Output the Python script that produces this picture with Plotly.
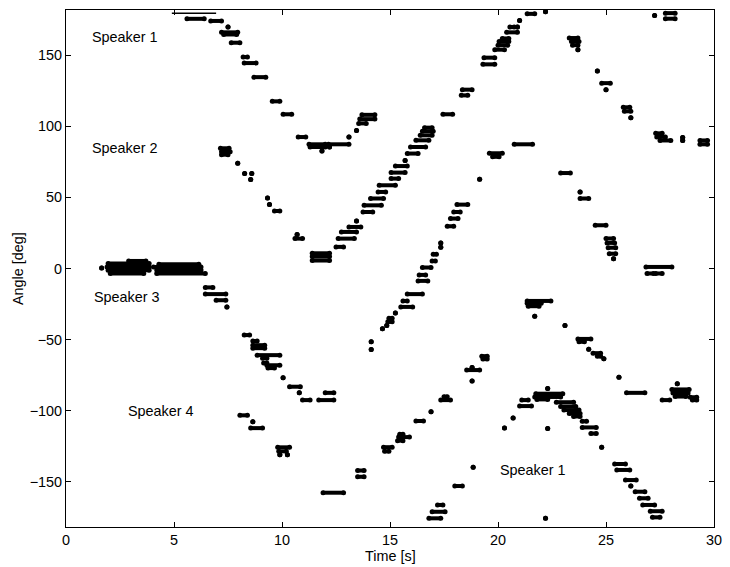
import plotly.graph_objects as go

# Each entry: (time start [s], time end [s], angle [deg]); start == end is a single detection
speaker1_top = [
    (5.6, 6.4, 175.5), (6.7, 7.2, 174.0), (7.5, 7.5, 169.7), (7.2, 7.95, 166.0),
    (7.3, 7.9, 164.5), (7.65, 8.05, 158.7), (8.2, 8.4, 148.6), (8.25, 8.8, 144.4),
    (8.7, 9.25, 134.5), (9.55, 9.9, 117.5), (10.05, 10.45, 108.4), (10.75, 11.1, 92.4),
    (11.25, 12.0, 87.3), (11.3, 12.0, 85.4), (11.85, 11.85, 82.6), (12.15, 13.1, 87.3),
    (12.2, 12.2, 85.4), (13.1, 13.1, 92.4), (13.45, 13.45, 97.0), (13.55, 13.9, 102.0),
    (13.6, 14.3, 105.0), (13.7, 14.3, 108.0),
]
speaker1_thin = [(4.9, 6.95, 179.5)]

speaker2 = [
    (7.15, 7.55, 84.5), (7.2, 7.6, 82.0), (7.2, 7.5, 80.0), (7.95, 7.95, 74.0),
    (8.27, 8.27, 66.7), (8.6, 8.6, 66.7), (8.55, 8.55, 62.5), (9.33, 9.33, 49.6),
    (9.42, 9.42, 45.0), (9.65, 9.9, 40.4), (10.7, 10.7, 23.9), (10.6, 10.95, 21.0),
    (11.4, 12.2, 10.7), (11.4, 12.2, 8.4), (11.4, 12.2, 5.6), (12.5, 12.85, 15.2),
    (12.6, 13.35, 21.0), (12.75, 13.45, 25.7), (13.1, 13.65, 29.2), (13.45, 13.45, 33.4),
    (13.75, 14.2, 39.7), (13.8, 14.6, 44.4), (14.1, 14.7, 49.2), (14.45, 14.8, 53.8),
    (14.5, 15.25, 58.5), (15.05, 15.4, 63.2), (15.05, 15.7, 67.4), (15.25, 15.8, 72.0),
    (15.7, 15.7, 76.0), (15.8, 16.3, 80.8), (15.95, 16.65, 85.4), (16.2, 16.8, 90.1),
    (16.4, 16.95, 93.6), (16.5, 17.0, 96.5), (16.6, 16.95, 99.0), (17.45, 17.9, 108.4),
    (18.35, 18.8, 125.7), (18.3, 18.6, 121.7), (19.35, 19.85, 148.2), (19.3, 19.85, 143.5),
    (19.85, 20.3, 153.8), (20.0, 20.45, 157.0), (20.05, 20.5, 159.5), (20.2, 20.5, 161.7),
    (20.4, 20.9, 166.0), (20.55, 20.75, 169.7), (20.9, 20.9, 169.7), (21.0, 21.0, 174.4),
    (21.35, 21.7, 179.0), (22.2, 22.2, 180.5),
]

speaker1_right = [
    (23.3, 23.7, 162.0), (23.4, 23.75, 159.5), (23.45, 23.7, 157.0), (23.7, 23.7, 153.8),
    (24.6, 24.6, 138.8), (24.8, 25.2, 130.3), (25.0, 25.0, 125.7), (25.8, 26.1, 113.3),
    (25.85, 26.15, 110.5), (26.15, 26.15, 106.0), (27.3, 27.6, 95.0), (27.35, 27.75, 92.5),
    (27.5, 28.0, 90.0), (28.55, 28.55, 92.0), (28.55, 28.55, 90.0), (29.35, 29.7, 90.0),
    (29.35, 29.7, 87.3), (27.25, 27.25, 177.9), (27.75, 28.2, 179.5), (27.75, 28.2, 175.6),
]

speaker3 = [
    (1.65, 1.65, 0.4), (1.95, 3.85, 3.5), (1.9, 3.85, 1.1), (1.95, 3.85, -1.2),
    (2.9, 3.7, 5.3), (2.05, 3.6, -3.5), (4.05, 6.25, 1.1), (4.3, 6.15, 3.0),
    (4.2, 6.25, -1.0), (4.2, 6.45, -3.5), (6.45, 6.8, -13.3), (6.45, 7.4, -18.0),
    (6.95, 7.4, -22.3), (7.45, 7.45, -27.0), (8.25, 8.5, -46.8), (8.65, 8.85, -51.0),
    (8.65, 9.2, -53.9), (8.65, 9.2, -56.0), (8.85, 9.9, -60.9), (9.1, 9.3, -63.0),
    (9.15, 9.3, -66.5), (9.3, 9.9, -68.0), (9.35, 9.65, -70.0), (10.05, 10.05, -76.8),
    (10.35, 10.85, -83.1), (10.8, 10.8, -87.4), (10.95, 11.3, -92.5), (11.7, 12.4, -92.5),
    (12.0, 12.4, -87.4),
]

speaker3_second = [
    (14.13, 14.13, -51.5), (14.13, 14.13, -56.9), (14.65, 14.65, -42.4), (14.85, 14.85, -40.0),
    (14.9, 15.1, -37.5), (14.95, 15.1, -35.0), (15.25, 15.25, -31.2), (15.5, 16.05, -27.0),
    (15.6, 15.8, -22.8), (15.8, 16.5, -18.0), (16.3, 16.75, -8.7), (16.35, 16.65, -4.5),
    (16.5, 16.9, 0.7), (16.95, 17.1, 5.3), (17.0, 17.15, 10.0), (17.35, 17.35, 15.0),
    (17.35, 17.35, 18.0), (17.65, 17.95, 29.7), (17.8, 18.15, 35.1), (17.95, 18.25, 39.7),
    (18.1, 18.6, 44.9), (19.15, 19.15, 62.7), (19.6, 20.2, 81.0), (19.75, 20.05, 78.5),
    (20.75, 21.6, 87.3), (22.9, 23.35, 67.1), (23.8, 23.8, 53.8), (23.8, 24.2, 49.2),
    (24.5, 25.0, 30.4), (25.0, 25.35, 21.1), (25.05, 25.4, 18.0), (25.1, 25.45, 14.6),
    (25.15, 25.45, 10.4), (25.35, 25.35, 6.9), (26.85, 28.05, 1.1), (26.9, 27.2, -3.5),
    (27.3, 27.6, -3.5),
]

speaker4 = [
    (8.05, 8.4, -103.2), (8.65, 8.65, -107.7), (8.55, 9.1, -112.2), (9.8, 10.35, -125.7),
    (9.85, 10.2, -128.5), (9.9, 9.9, -131.0), (10.25, 10.25, -131.0), (11.9, 12.85, -157.6),
    (13.5, 13.8, -142.0), (13.5, 13.8, -146.4), (14.7, 15.1, -125.6), (14.75, 14.95, -128.5),
    (15.35, 15.6, -121.0), (15.4, 15.9, -118.5), (15.45, 15.6, -116.5), (16.2, 16.55, -107.2),
    (16.9, 16.9, -100.7), (17.35, 17.8, -92.5), (17.5, 17.65, -90.1), (18.55, 19.15, -71.4),
    (18.8, 18.8, -69.5), (18.8, 18.8, -79.0), (19.25, 19.5, -61.6), (19.3, 19.5, -63.7),
]

speaker2_second = [
    (21.35, 22.45, -22.8), (21.35, 22.0, -24.5), (21.4, 21.9, -26.5), (21.7, 21.7, -33.5),
    (23.1, 23.1, -40.0), (23.7, 24.3, -49.5), (23.75, 24.0, -51.5), (24.2, 24.2, -56.7),
    (24.4, 24.75, -59.5), (24.6, 24.75, -61.6), (24.9, 24.9, -63.5), (25.6, 25.6, -76.5),
    (25.95, 26.8, -87.4), (27.6, 27.95, -92.5), (28.3, 28.3, -81.0), (28.05, 28.85, -85.0),
    (28.1, 28.8, -87.5), (28.2, 28.7, -90.0), (28.9, 29.2, -90.5), (29.0, 29.2, -92.5),
]

speaker1_bottom = [
    (16.8, 17.35, -175.6), (16.95, 17.55, -171.0), (17.2, 17.45, -166.2), (18.0, 18.35, -152.9),
    (18.85, 18.85, -139.7), (20.3, 20.3, -112.2), (20.7, 20.7, -105.1), (21.0, 21.55, -96.7),
    (21.1, 21.4, -92.5), (21.75, 23.0, -88.0), (21.7, 22.9, -90.3), (21.8, 22.3, -92.0),
    (22.3, 22.3, -84.4), (22.7, 23.5, -94.0), (22.9, 23.6, -97.0), (23.05, 23.75, -99.5),
    (23.3, 23.8, -102.0), (23.5, 23.8, -104.0), (23.9, 24.1, -107.4), (23.9, 24.55, -111.7),
    (24.3, 24.55, -116.0), (24.8, 24.8, -125.7), (25.4, 25.9, -137.4), (25.5, 26.1, -141.6),
    (25.9, 26.4, -148.7), (26.15, 26.15, -152.9), (26.35, 26.8, -156.9), (26.55, 26.95, -161.5),
    (26.7, 27.25, -166.2), (27.05, 27.6, -170.6), (27.15, 27.5, -174.9), (22.2, 22.2, -175.6),
    (22.3, 22.3, -112.4),
]

labels = ["Speaker 1", "Speaker 2", "Speaker 3", "Speaker 4", "Speaker 1"]
label_t = [1.1, 1.1, 1.2, 2.8, 20.0]
label_deg = [162.4, 84.5, -20.0, -100.0, -141.6]

x_ticks = [0, 5, 10, 15, 20, 25, 30]
y_ticks = [-150, -100, -50, 0, 50, 100, 150]

FONT = "Liberation Sans, Arial, Helvetica, sans-serif"
FS = 14.4


def to_xy(segs):
    xs, ys = [], []
    for t0, t1, a in segs:
        xs += [t0, t1, None]
        ys += [a, a, None]
    return xs, ys


fig = go.Figure()
for segs in [speaker1_top, speaker2, speaker1_right, speaker3, speaker3_second,
             speaker4, speaker2_second, speaker1_bottom]:
    xs, ys = to_xy(segs)
    fig.add_trace(go.Scatter(x=xs, y=ys, mode="lines+markers",
                             line=dict(color="black", width=4),
                             marker=dict(color="black", size=5),
                             showlegend=False, hoverinfo="skip"))
xs, ys = to_xy(speaker1_thin)
fig.add_trace(go.Scatter(x=xs, y=ys, mode="lines", line=dict(color="black", width=1.5),
                         showlegend=False, hoverinfo="skip"))

for txt, t, a in zip(labels, label_t, label_deg):
    fig.add_annotation(x=t, y=a, text=txt, showarrow=False, xanchor="left", yanchor="middle",
                       font=dict(family=FONT, size=FS, color="black"))

fig.add_annotation(xref="paper", yref="paper", x=-0.0747, y=0.5, text="Angle [deg]",
                   textangle=-90, showarrow=False, xanchor="center", yanchor="middle",
                   font=dict(family=FONT, size=FS, color="black"))
fig.add_annotation(xref="paper", yref="paper", x=0.5, y=-0.056, text="Time [s]",
                   showarrow=False, xanchor="center", yanchor="middle",
                   font=dict(family=FONT, size=FS, color="black"))

axis_common = dict(showline=True, linecolor="black", linewidth=1, mirror="ticks",
                   ticks="inside", ticklen=5, tickcolor="black", showgrid=False,
                   zeroline=False, ticklabeloverflow="allow",
                   tickfont=dict(family=FONT, size=FS, color="black"))
fig.update_layout(
    width=730, height=567,
    margin=dict(l=66, r=8, t=10, b=40),
    plot_bgcolor="white", paper_bgcolor="white",
    xaxis=dict(range=[0, 30], tickvals=x_ticks, **axis_common),
    yaxis=dict(range=[-181.7, 181.7], tickvals=y_ticks, **axis_common),
)
fig.write_html("out.html", config={"displayModeBar": False},
               post_script="document.body.style.margin='0';document.body.style.overflow='hidden';")
